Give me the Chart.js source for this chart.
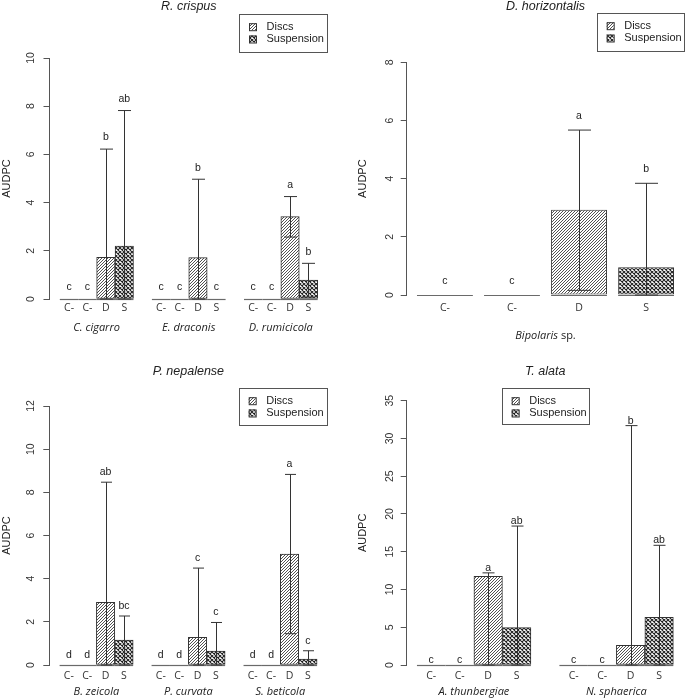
<!DOCTYPE html>
<html><head><meta charset="utf-8">
<script src="https://cdn.jsdelivr.net/npm/chart.js@4.4.1/dist/chart.umd.min.js"></script>
<style>
html,body{margin:0;padding:0;background:#fff;}
#wrap{position:relative;width:685px;height:700px;overflow:hidden;background:#fff;}
canvas{position:absolute;left:0;top:0;}
</style></head><body><div id="wrap">
<canvas id="c1" width="685" height="700"></canvas>
<canvas id="c2" width="685" height="700"></canvas>
<canvas id="c3" width="685" height="700"></canvas>
<canvas id="c4" width="685" height="700"></canvas>
</div>
<script>
// ---------------- DATA ----------------
const treatments = ['C-', 'C-', 'D', 'S'];
const legendLabels = ['Discs', 'Suspension'];
const yTitle = 'AUDPC';

// Panel 1: R. crispus
const crispusTitle = 'R. crispus';
const crispusGroups = ['C. cigarro', 'E. draconis', 'D. rumicicola'];
const crispusMean = [[0, 0, 1.73, 2.20], [0, 0, 1.72, 0], [0, 0, 3.42, 0.78]];
const crispusHi = [[null, null, 6.22, 7.82], [null, null, 4.97, null], [null, null, 4.25, 1.48]];
const crispusLo = [[null, null, 0, 0], [null, null, 0, null], [null, null, 2.57, 0.08]];
const crispusLetters = [['c', 'c', 'b', 'ab'], ['c', 'c', 'b', 'c'], ['c', 'c', 'a', 'b']];
const crispusTicks = [0, 2, 4, 6, 8, 10];

// Panel 2: D. horizontalis
const horizTitle = 'D. horizontalis';
const horizGroups = ['Bipolaris sp.'];
const horizMean = [[0, 0, 2.93, 0.95]];
const horizHi = [[null, null, 5.67, 3.84]];
const horizLo = [[null, null, 0.16, 0]];
const horizLetters = [['c', 'c', 'a', 'b']];
const horizTicks = [0, 2, 4, 6, 8];

// Panel 3: P. nepalense
const nepTitle = 'P. nepalense';
const nepGroups = ['B. zeicola', 'P. curvata', 'S. beticola'];
const nepMean = [[0, 0, 2.90, 1.15], [0, 0, 1.28, 0.65], [0, 0, 5.14, 0.28]];
const nepHi = [[null, null, 8.47, 2.27], [null, null, 4.49, 1.97], [null, null, 8.83, 0.66]];
const nepLo = [[null, null, 0, 0], [null, null, 0, 0], [null, null, 1.45, 0]];
const nepLetters = [['d', 'd', 'ab', 'bc'], ['d', 'd', 'c', 'c'], ['d', 'd', 'a', 'c']];
const nepTicks = [0, 2, 4, 6, 8, 10, 12];

// Panel 4: T. alata
const alataTitle = 'T. alata';
const alataGroups = ['A. thunbergiae', 'N. sphaerica'];
const alataMean = [[0, 0, 11.75, 4.95], [0, 0, 2.62, 6.30]];
const alataHi = [[null, null, 12.2, 18.4], [null, null, 31.7, 15.85]];
const alataLo = [[null, null, 0, 0], [null, null, 0, 0]];
const alataLetters = [['c', 'c', 'a', 'ab'], ['c', 'c', 'b', 'ab']];
const alataTicks = [0, 5, 10, 15, 20, 25, 30, 35];

// ---------------- STYLE ----------------
const SANS = "'Liberation Sans', Arial, Helvetica, sans-serif";
const LBL = "'Open Sans', 'Noto Sans', sans-serif";
Chart.defaults.font.family = SANS;

function makePattern(cross) {
  const t = cross ? 4 : 3;
  const c = document.createElement('canvas');
  c.width = t; c.height = t;
  const g = c.getContext('2d');
  g.fillStyle = '#fff'; g.fillRect(0, 0, t, t);
  g.strokeStyle = cross ? '#222' : '#333'; g.lineWidth = cross ? 1.1 : 0.85;
  g.beginPath();
  for (const o of [-t, 0, t]) { g.moveTo(o, t); g.lineTo(o + t, 0); }
  if (cross) for (const o of [-t, 0, t]) { g.moveTo(o, 0); g.lineTo(o + t, t); }
  g.stroke();
  return g.createPattern(c, 'repeat');
}
const discsPat = makePattern(false);
const suspPat = makePattern(true);

function buildPanel(id, d, lay) {
  const n = d.treat.length;
  const pts = [], info = [], tickLabels = {};
  d.groups.forEach((g, gi) => {
    d.treat.forEach((t, j) => {
      const x = gi * (n + lay.gap) + j;
      pts.push({x: x, y: d.mean[gi][j]});
      info.push({hi: d.hi[gi][j], lo: d.lo[gi][j], mean: d.mean[gi][j], letter: d.letters[gi][j], t: t, g: gi});
      tickLabels[x] = t;
    });
  });
  const nSlots = d.groups.length * n + (d.groups.length - 1) * lay.gap;
  const half = lay.barFrac / 2;
  const span = (nSlots - 1) + lay.barFrac;
  const ext = 0.04 * span;
  const xmin = -half - ext, xmax = nSlots - 1 + half + ext;

  const decor = {
    id: 'decor' + id,
    beforeDatasetsDraw(chart) {
      const ctx = chart.ctx, meta = chart.getDatasetMeta(0), y = chart.scales.y;
      const y0 = Math.round(y.getPixelForValue(0)) + 0.5;
      ctx.save();
      ctx.strokeStyle = '#6a6a6a'; ctx.lineWidth = 1.2;
      meta.data.forEach(el => {
        ctx.beginPath(); ctx.moveTo(el.x - el.width / 2, y0); ctx.lineTo(el.x + el.width / 2, y0); ctx.stroke();
      });
      ctx.restore();
    },
    afterDatasetsDraw(chart) {
      const ctx = chart.ctx, meta = chart.getDatasetMeta(0), y = chart.scales.y;
      ctx.save();
      ctx.strokeStyle = '#333'; ctx.lineWidth = 1;
      meta.data.forEach((el, i) => {
        const it = info[i];
        if (it.hi != null) {
          const xp = Math.round(el.x) + 0.5;
          const yh = y.getPixelForValue(it.hi), yl = y.getPixelForValue(it.lo);
          const cw = lay.cap / 2;
          ctx.beginPath();
          ctx.moveTo(xp, yl); ctx.lineTo(xp, yh);
          ctx.moveTo(xp - cw, yh); ctx.lineTo(xp + cw, yh);
          ctx.moveTo(xp - cw, yl); ctx.lineTo(xp + cw, yl);
          ctx.stroke();
        }
        const base = it.hi != null ? it.hi : it.mean;
        ctx.fillStyle = '#222';
        ctx.font = '10.5px ' + SANS;
        ctx.textAlign = 'center'; ctx.textBaseline = 'middle';
        ctx.fillText(it.letter, el.x, y.getPixelForValue(base) - lay.letterOff);
      });
      ctx.restore();
    },
    afterDraw(chart) {
      const ctx = chart.ctx, meta = chart.getDatasetMeta(0), area = chart.chartArea;
      ctx.save();
      // group labels
      ctx.fillStyle = '#222'; ctx.textBaseline = 'middle';
      d.groups.forEach((g, gi) => {
        const els = meta.data.filter((e, i) => info[i].g === gi);
        const cx = (els[0].x + els[els.length - 1].x) / 2;
        const words = g.split(' ');
        const parts = words.map((w, k) => ({txt: (k ? ' ' : '') + w, it: w !== 'sp.'}));
        const fontFor = p => (p.it ? 'italic ' : '') + '11px ' + LBL;
        let total = 0;
        parts.forEach(p => { ctx.font = fontFor(p); p.w = ctx.measureText(p.txt).width; total += p.w; });
        let x = cx - total / 2;
        ctx.textAlign = 'left';
        parts.forEach(p => { ctx.font = fontFor(p); ctx.fillText(p.txt, x, area.bottom + lay.groupDy); x += p.w; });
      });
      // legend
      const L = lay.legend;
      ctx.strokeStyle = '#555'; ctx.lineWidth = 1;
      ctx.fillStyle = '#fff';
      ctx.fillRect(L.x, L.y, L.w, L.h);
      ctx.strokeRect(Math.round(L.x) + 0.5, Math.round(L.y) + 0.5, Math.round(L.w), Math.round(L.h));
      [discsPat, suspPat].forEach((pat, k) => {
        const sy = L.y + 12.7 + k * 12.3;
        ctx.fillStyle = pat;
        ctx.fillRect(L.x + 10, sy - 3.5, 7, 7);
        ctx.strokeStyle = '#333';
        ctx.strokeRect(L.x + 10.5, sy - 3, 7, 7);
        ctx.fillStyle = '#222';
        ctx.font = '11px ' + SANS;
        ctx.textAlign = 'left'; ctx.textBaseline = 'middle';
        ctx.fillText(legendLabels[k], L.x + 27.5, sy);
      });
      ctx.restore();
    }
  };

  return new Chart(document.getElementById(id), {
    type: 'bar',
    data: {
      datasets: [{
        data: pts,
        backgroundColor: info.map(it => it.t === 'D' ? discsPat : (it.t === 'S' ? suspPat : '#fff')),
        borderColor: '#333',
        borderWidth: 1,
        borderSkipped: false,
        barPercentage: lay.barFrac,
        categoryPercentage: 1
      }]
    },
    options: {
      responsive: false,
      animation: false,
      events: [],
      layout: {padding: lay.pad},
      plugins: {
        legend: {display: false},
        tooltip: {enabled: false},
        title: {
          display: true, text: d.title, fullSize: false, color: '#222',
          font: {size: 12.5, style: 'italic', weight: 'normal', lineHeight: 1, family: SANS},
          padding: {top: 0, bottom: lay.titleGap}
        }
      },
      scales: {
        x: {
          type: 'linear', min: xmin, max: xmax, offset: false,
          afterBuildTicks: s => { s.ticks = Object.keys(tickLabels).map(k => ({value: +k})); },
          ticks: {
            autoSkip: false, maxRotation: 0, padding: lay.xPad, color: '#333',
            font: {family: LBL, size: 10.5},
            callback: v => tickLabels[v] ?? ''
          },
          grid: {display: false, drawTicks: false},
          border: {display: false},
          afterFit: s => { s.height = 20; }
        },
        y: {
          type: 'linear', min: 0, max: d.ticks[d.ticks.length - 1],
          afterBuildTicks: s => { s.ticks = d.ticks.map(v => ({value: v})); },
          ticks: {
            minRotation: 90, maxRotation: 90, crossAlign: 'center',
            padding: lay.yPad, color: '#333', font: {size: 10.5}
          },
          grid: {display: true, drawOnChartArea: false, drawTicks: true, tickLength: 6, color: '#555', tickColor: '#555'},
          border: {display: true, color: '#555', width: 1},
          title: {display: true, text: yTitle, color: '#222', font: {size: 11}, padding: 0},
          afterFit: s => { s.width = lay.yWidth; }
        }
      }
    },
    plugins: [decor]
  });
}

buildPanel('c1',
  {title: crispusTitle, groups: crispusGroups, treat: treatments, mean: crispusMean, hi: crispusHi, lo: crispusLo, letters: crispusLetters, ticks: crispusTicks},
  {gap: 1, barFrac: 1, pad: {left: 0, top: 0, right: 357, bottom: 381}, titleGap: 45.5, yWidth: 49.5, yPad: 6.6, xPad: 2.7,
   cap: 13, letterOff: 11.5, groupDy: 29, legend: {x: 239, y: 14, w: 88, h: 38}});

buildPanel('c2',
  {title: horizTitle, groups: horizGroups, treat: treatments, mean: horizMean, hi: horizHi, lo: horizLo, letters: horizLetters, ticks: horizTicks},
  {gap: 0, barFrac: 0.8333, pad: {left: 356.4, top: 0, right: 0.7, bottom: 385}, titleGap: 49.8, yWidth: 50.3, yPad: 7.8, xPad: 7,
   cap: 23, letterOff: 14, groupDy: 41, legend: {x: 596.7, y: 13, w: 87.3, h: 38}});

buildPanel('c3',
  {title: nepTitle, groups: nepGroups, treat: treatments, mean: nepMean, hi: nepHi, lo: nepLo, letters: nepLetters, ticks: nepTicks},
  {gap: 1, barFrac: 1, pad: {left: 0, top: 365.45, right: 357.6, bottom: 15}, titleGap: 28.05, yWidth: 49.3, yPad: 6.6, xPad: 4.4,
   cap: 11, letterOff: 10, groupDy: 26.7, legend: {x: 238.7, y: 388, w: 88, h: 37}});

buildPanel('c4',
  {title: alataTitle, groups: alataGroups, treat: treatments, mean: alataMean, hi: alataHi, lo: alataLo, letters: alataLetters, ticks: alataTicks},
  {gap: 1, barFrac: 1, pad: {left: 356.4, top: 365.45, right: 1.4, bottom: 15}, titleGap: 22.75, yWidth: 50.3, yPad: 4.85, xPad: 4.4,
   cap: 12, letterOff: 5, groupDy: 26.7, legend: {x: 501.7, y: 388, w: 86.6, h: 36.3}});
</script>
</body></html>
